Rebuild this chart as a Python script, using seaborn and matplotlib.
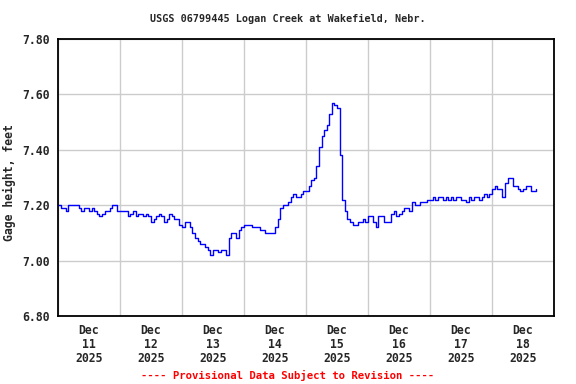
import matplotlib
matplotlib.use("Agg")
import matplotlib.pyplot as plt
import seaborn as sns
import pandas as pd

# hourly gage height readings, starting Dec 11 2025 00:00
gage_height = [
    7.20, 7.19, 7.19, 7.18, 7.20, 7.20, 7.20, 7.20, 7.19, 7.18, 7.19, 7.19,
    7.18, 7.19, 7.18, 7.17, 7.16, 7.17, 7.18, 7.18, 7.19, 7.20, 7.20, 7.18,
    7.18, 7.18, 7.18, 7.16, 7.17, 7.18, 7.16, 7.17, 7.17, 7.16, 7.17, 7.16,
    7.14, 7.15, 7.16, 7.17, 7.16, 7.14, 7.15, 7.17, 7.16, 7.15, 7.15, 7.13,
    7.12, 7.14, 7.14, 7.12, 7.10, 7.08, 7.07, 7.06, 7.06, 7.05, 7.04, 7.02,
    7.04, 7.04, 7.03, 7.04, 7.04, 7.02, 7.08, 7.10, 7.10, 7.08, 7.11, 7.12,
    7.13, 7.13, 7.13, 7.12, 7.12, 7.12, 7.11, 7.11, 7.10, 7.10, 7.10, 7.10,
    7.12, 7.15, 7.19, 7.20, 7.20, 7.21, 7.23, 7.24, 7.23, 7.23, 7.24, 7.25,
    7.25, 7.27, 7.29, 7.30, 7.34, 7.41, 7.45, 7.47, 7.49, 7.53, 7.57, 7.56,
    7.55, 7.38, 7.22, 7.18, 7.15, 7.14, 7.13, 7.13, 7.14, 7.14, 7.15, 7.14,
    7.16, 7.16, 7.14, 7.12, 7.16, 7.16, 7.14, 7.14, 7.14, 7.17, 7.18, 7.16,
    7.17, 7.18, 7.19, 7.19, 7.18, 7.21, 7.20, 7.20, 7.21, 7.21, 7.21, 7.22,
    7.22, 7.23, 7.22, 7.23, 7.23, 7.22, 7.23, 7.22, 7.23, 7.22, 7.23, 7.23,
    7.22, 7.22, 7.21, 7.23, 7.22, 7.23, 7.23, 7.22, 7.23, 7.24, 7.23, 7.24,
    7.26, 7.27, 7.26, 7.26, 7.23, 7.28, 7.30, 7.30, 7.27, 7.27, 7.26, 7.25,
    7.26, 7.27, 7.27, 7.25, 7.25, 7.26,
]
days = ["11", "12", "13", "14", "15", "16", "17", "18"]
y_ticks = [6.80, 7.00, 7.20, 7.40, 7.60, 7.80]

times = pd.date_range("2025-12-11 00:00", periods=len(gage_height), freq="h")
df = pd.DataFrame({"time": times, "height": gage_height})

sns.set_style("white")
mono = ["DejaVu Sans Mono"]

fig = plt.figure(figsize=(5.76, 3.84), dpi=100)
ax = fig.add_axes([58 / 576, 68 / 384, 496 / 576, 277 / 384])

sns.lineplot(data=df, x="time", y="height", ax=ax, color="#0000FF",
             linewidth=1.0, drawstyle="steps-post")

start = pd.Timestamp("2025-12-11")
ax.set_xlim(start, start + pd.Timedelta(days=8))
ax.set_ylim(6.80, 7.80)

# grid at midnights, labels at noon
midnights = [start + pd.Timedelta(days=i) for i in range(9)]
noons = [start + pd.Timedelta(days=i, hours=12) for i in range(len(days))]
ax.set_xticks(midnights, minor=True)
ax.set_xticks(noons)
ax.set_xticklabels([f"Dec\n{d}\n2025" for d in days], family=mono,
                   fontweight="bold", fontsize=8.3, linespacing=1.1)
ax.set_yticks(y_ticks)
ax.set_yticklabels([f"{v:.2f}" for v in y_ticks], family=mono,
                   fontweight="bold", fontsize=8.3)

ax.grid(True, which="minor", axis="x", color="#cccccc", linewidth=1)
ax.grid(True, which="major", axis="y", color="#cccccc", linewidth=1)
ax.set_axisbelow(True)
ax.tick_params(axis="both", which="both", length=0, pad=6)
ax.tick_params(axis="y", pad=6)

for s in ax.spines.values():
    s.set_color("black")
    s.set_linewidth(1.3)

ax.set_xlabel("")
ax.set_ylabel("Gage height, feet", family=mono, fontweight="bold",
              fontsize=8.3)
ax.yaxis.set_label_coords(-0.085, 0.48)

fig.text(0.5, 1 - 19 / 384, "USGS 06799445 Logan Creek at Wakefield, Nebr.",
         ha="center", va="center", family=mono, fontweight="bold", fontsize=7.3)
fig.text(0.5, 1 - 375 / 384, "---- Provisional Data Subject to Revision ----",
         ha="center", va="center", family=mono, fontweight="bold",
         fontsize=7.7, color="red")

fig.savefig("out.png", dpi=100)
